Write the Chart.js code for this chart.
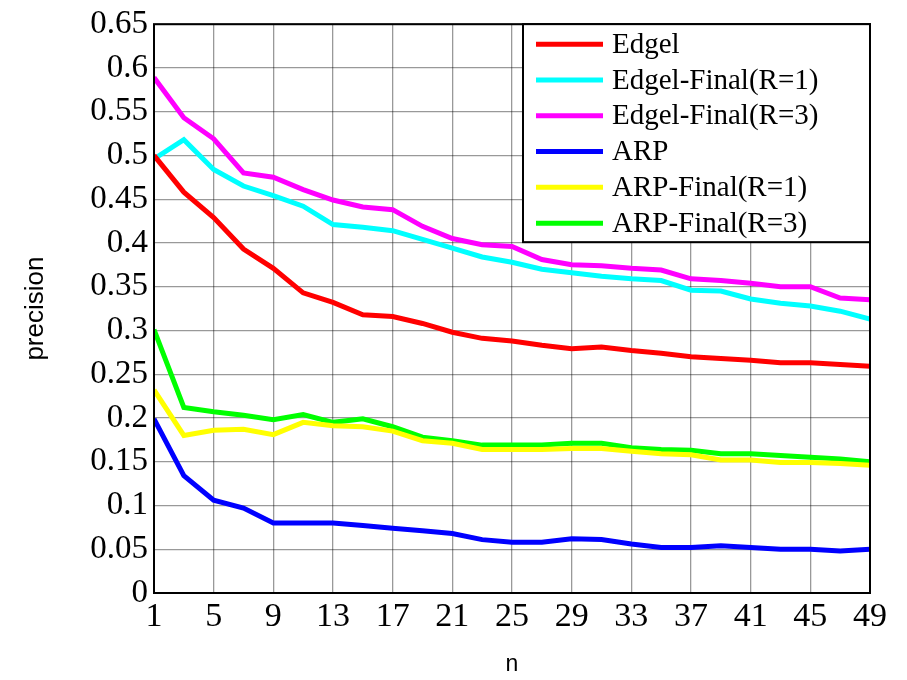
<!DOCTYPE html>
<html>
<head>
<meta charset="utf-8">
<script src="https://cdn.jsdelivr.net/npm/chart.js@4.4.1/dist/chart.umd.min.js"></script>
<style>
    html, body { margin: 0; padding: 0; background: #fff; }
    #wrap { width: 907px; height: 680px; }
</style>
</head>
<body>
<div id="wrap"><canvas id="chart_1"></canvas></div>
<script>
const n_values = [1, 3, 5, 7, 9, 11, 13, 15, 17, 19, 21, 23, 25, 27, 29, 31, 33, 35, 37, 39, 41, 43, 45, 47, 49];
const edgel = [0.500, 0.458, 0.429, 0.393, 0.371, 0.343, 0.332, 0.318, 0.316, 0.308, 0.298, 0.291, 0.288, 0.283, 0.279, 0.281, 0.277, 0.274, 0.270, 0.268, 0.266, 0.263, 0.263, 0.261, 0.259];
const edgel_final_r1 = [0.496, 0.518, 0.484, 0.465, 0.454, 0.442, 0.421, 0.418, 0.414, 0.404, 0.394, 0.384, 0.378, 0.370, 0.366, 0.362, 0.359, 0.357, 0.346, 0.345, 0.336, 0.331, 0.328, 0.322, 0.313];
const edgel_final_r3 = [0.589, 0.543, 0.519, 0.480, 0.475, 0.461, 0.449, 0.441, 0.438, 0.419, 0.405, 0.398, 0.396, 0.381, 0.375, 0.374, 0.371, 0.369, 0.359, 0.357, 0.354, 0.350, 0.350, 0.337, 0.335];
const arp = [0.199, 0.134, 0.106, 0.097, 0.080, 0.080, 0.080, 0.077, 0.074, 0.071, 0.068, 0.061, 0.058, 0.058, 0.062, 0.061, 0.056, 0.052, 0.052, 0.054, 0.052, 0.050, 0.050, 0.048, 0.050];
const arp_final_r1 = [0.232, 0.180, 0.186, 0.187, 0.181, 0.195, 0.191, 0.190, 0.185, 0.174, 0.171, 0.164, 0.164, 0.164, 0.165, 0.165, 0.162, 0.159, 0.158, 0.152, 0.152, 0.149, 0.149, 0.148, 0.146];
const arp_final_r3 = [0.301, 0.212, 0.207, 0.203, 0.198, 0.204, 0.195, 0.199, 0.190, 0.178, 0.174, 0.169, 0.169, 0.169, 0.171, 0.171, 0.166, 0.164, 0.163, 0.159, 0.159, 0.157, 0.155, 0.153, 0.150];

function points(values) {
    return values.map(function (v, i) { return { x: n_values[i], y: v }; });
}

function serie(label, values, color) {
    return {
        label: label,
        data: points(values),
        borderColor: color,
        backgroundColor: color,
        borderWidth: 5,
        pointRadius: 0,
        tension: 0,
        fill: false
    };
}

// frame round the plot + legend box in the top right corner
const frameLegend = {
    id: 'frameLegend',
    afterDraw: function (chart) {
        const ctx = chart.ctx;
        const a = chart.chartArea;
        ctx.save();
        ctx.strokeStyle = '#000';
        ctx.lineWidth = 2;
        ctx.strokeRect(a.left, a.top, a.right - a.left, a.bottom - a.top);

        const w = 347, h = 218;
        const x0 = a.right - w, y0 = a.top;
        ctx.fillStyle = '#fff';
        ctx.fillRect(x0, y0, w, h);
        ctx.strokeRect(x0, y0, w, h);

        ctx.font = '29px "Liberation Serif"';
        ctx.textBaseline = 'middle';
        ctx.textAlign = 'left';
        chart.data.datasets.forEach(function (ds, i) {
            const yy = y0 + 20 + i * 35.8;
            ctx.strokeStyle = ds.borderColor;
            ctx.lineWidth = 5;
            ctx.beginPath();
            ctx.moveTo(x0 + 13, yy);
            ctx.lineTo(x0 + 80, yy);
            ctx.stroke();
            ctx.fillStyle = '#000';
            ctx.fillText(ds.label, x0 + 89, yy + 1);
        });
        ctx.restore();
    }
};

const chart_prec = document.getElementById('chart_1');

new Chart(chart_prec, {
    type: 'line',
    data: {
        datasets: [
            serie('Edgel', edgel, '#ff0000'),
            serie('Edgel-Final(R=1)', edgel_final_r1, '#00ffff'),
            serie('Edgel-Final(R=3)', edgel_final_r3, '#ff00ff'),
            serie('ARP', arp, '#0000ff'),
            serie('ARP-Final(R=1)', arp_final_r1, '#ffff00'),
            serie('ARP-Final(R=3)', arp_final_r3, '#00ff00')
        ]
    },
    options: {
        responsive: true,
        maintainAspectRatio: false,
        animation: false,
        layout: { padding: { left: 20, right: 37, top: 10, bottom: 0 } },
        plugins: {
            legend: { display: false },
            tooltip: { enabled: false }
        },
        scales: {
            x: {
                type: 'linear',
                min: 1,
                max: 49,
                ticks: {
                    stepSize: 4,
                    autoSkip: false,
                    maxRotation: 0,
                    padding: 4,
                    color: '#000',
                    font: { family: 'Liberation Serif', size: 34 }
                },
                grid: { color: 'rgba(0,0,0,0.4)', lineWidth: 1.3, drawTicks: false },
                border: { display: false },
                title: {
                    display: true,
                    text: 'n',
                    color: '#000',
                    font: { family: 'Liberation Sans', size: 23 },
                    padding: { top: 0, bottom: 2 }
                },
                afterFit: function (scale) { scale.height = 87; }
            },
            y: {
                min: 0,
                max: 0.65,
                ticks: {
                    stepSize: 0.05,
                    autoSkip: false,
                    padding: 6,
                    color: '#000',
                    font: { family: 'Liberation Serif', size: 33, lineHeight: 1.1 },
                    callback: function (v) { return String(parseFloat(v.toFixed(2))); }
                },
                grid: { color: 'rgba(0,0,0,0.4)', lineWidth: 1.3, drawTicks: false },
                border: { display: false },
                title: {
                    display: true,
                    text: 'precision',
                    color: '#000',
                    font: { family: 'Liberation Sans', size: 26 },
                    padding: { top: 0, bottom: 0 }
                },
                afterFit: function (scale) { scale.width = 134; }
            }
        }
    },
    plugins: [frameLegend]
});
</script>
</body>
</html>
